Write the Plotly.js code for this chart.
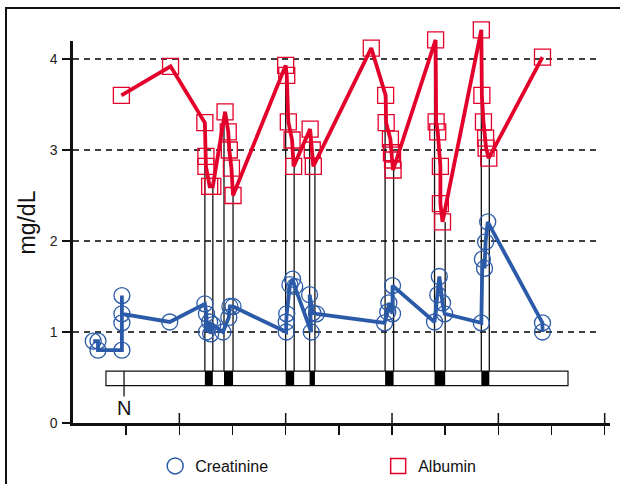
<!DOCTYPE html>
<html>
<head>
<meta charset="utf-8">
<script src="https://cdn.plot.ly/plotly-3.0.1.min.js"></script>
<style>
html,body{margin:0;padding:0;background:#fff;overflow:hidden}
#wrap{position:relative;width:620px;height:484px;overflow:hidden}
#frame{position:absolute;left:5px;top:7px;width:800px;height:700px;border-left:2.6px solid #111;border-top:2.6px solid #111;pointer-events:none}
#axtop{position:absolute;left:68px;top:16px;width:10px;height:25px;background:#fff;pointer-events:none}
</style>
</head>
<body>
<div id="wrap">
<div id="chart" style="width:620px;height:484px"></div>
<div id="axtop"></div>
<div id="frame"></div>
</div>
<script>
// Creatinine (mg/dL), in drawing order
const creatX = [0.38,0.47,0.47,0.92,0.92,0.92,0.92,1.82,
  2.48,2.51,2.51,2.57,2.59,2.63,2.82,2.93,2.95,3.01,
  4.01,4.01,4.02,4.08,4.13,4.17,4.48,4.45,4.51,4.58,
  5.86,5.92,5.94,6.01,6.01,
  6.80,6.86,6.89,6.95,6.99,
  7.68,7.70,7.74,7.76,7.80,8.83,8.83];
const creatY = [0.90,0.90,0.80,0.80,1.10,1.40,1.20,1.11,
  1.31,1.20,1.00,1.11,0.98,1.08,1.00,1.16,1.28,1.28,
  1.00,1.11,1.20,1.52,1.58,1.50,1.00,1.41,1.21,1.20,
  1.10,1.22,1.32,1.20,1.51,
  1.11,1.41,1.61,1.32,1.20,
  1.10,1.80,1.70,1.99,2.21,1.10,1.00];

// Albumin (mg/dL), in drawing order
const albX = [0.91,1.835,
  2.48,2.50,2.50,2.57,2.63,
  2.86,2.92,2.94,2.98,3.01,
  4.00,4.02,4.05,4.12,4.15,
  4.46,4.50,4.52,
  5.61,
  5.88,5.89,5.97,5.99,6.01,6.02,
  6.82,6.83,6.86,6.91,6.91,6.95,
  7.68,7.69,7.72,7.76,7.77,7.82,
  8.83];
const albY = [3.60,3.92,
  3.30,2.93,2.82,2.60,2.60,
  3.42,3.20,3.00,2.80,2.50,
  3.93,3.82,3.31,3.11,2.82,
  3.23,3.00,2.82,
  4.12,
  3.60,3.30,3.12,2.97,2.89,2.78,
  4.21,3.31,3.20,2.82,2.41,2.21,
  4.32,3.60,3.31,3.13,3.02,2.91,
  4.02];

// Episodes on the timeline bar
const epStart    = [2.48,2.84,4.00,4.45,5.87,6.80,7.68];
const epEnd      = [2.63,3.01,4.16,4.55,6.03,7.00,7.83];
const epStartTop = [3.30,3.42,3.93,3.23,3.60,4.21,4.32];
const epEndTop   = [2.60,2.50,2.82,2.82,2.78,2.21,2.91];

// Timeline bar
const barStart = 0.62, barEnd = 9.31, barBottom = 0.41, barTop = 0.57;
const markN = 0.96, markNBottom = 0.29, markNLabelY = 0.165;

const yTicks = [0,1,2,3,4];
const yTickLabels = ['0','1','2','3','4'];
const yMax = 4.4066;
const xTicks = [1,2,3,4,5,6,7,8,9,10];
const xMajor = [2,4,6,8,10];
const gridVals = [1,2,3,4];

const BLUE = '#2b5ba8', RED = '#e3002b';
const FONT = 'Arial, "Liberation Sans", sans-serif';

// vertical connector lines
const vx = [], vy = [];
for (let i = 0; i < epStart.length; i++) {
  vx.push(epStart[i], epStart[i], null, epEnd[i], epEnd[i], null);
  vy.push(barTop, epStartTop[i], null, barTop, epEndTop[i], null);
}

const traces = [
  {x: vx, y: vy, mode: 'lines', line: {color: '#111', width: 1.3}, showlegend: false, hoverinfo: 'skip', cliponaxis: false},
  {x: creatX, y: creatY, mode: 'lines+markers', showlegend: false, cliponaxis: false,
   line: {color: BLUE, width: 3.8},
   marker: {symbol: 'circle-open', size: 16, color: BLUE, line: {width: 1.3}}},
  {x: albX, y: albY, mode: 'lines+markers', showlegend: false, cliponaxis: false,
   line: {color: RED, width: 3.8},
   marker: {symbol: 'square-open', size: 16, color: RED, line: {width: 1.3}}},
  {x: [null], y: [null], mode: 'markers', name: 'Creatinine', cliponaxis: false,
   marker: {symbol: 'circle-open', size: 16, color: BLUE, line: {width: 1.5}}},
  {x: [null], y: [null], mode: 'markers', name: 'Albumin', cliponaxis: false,
   marker: {symbol: 'square-open', size: 15, color: RED, line: {width: 1.5}}}
];

const shapes = [];
// dashed gridlines
gridVals.forEach(v => shapes.push({type: 'line', xref: 'x', yref: 'y', x0: 0, x1: 9.84, y0: v, y1: v,
  line: {color: '#000', width: 1.4, dash: '6px,5px'}, layer: 'below'}));
// x major ticks upper part
xMajor.forEach(v => shapes.push({type: 'line', xref: 'x', yref: 'y', ysizemode: 'pixel', yanchor: 0,
  x0: v, x1: v, y0: 0, y1: 10, line: {color: '#111', width: 1.5}}));
// timeline bar
shapes.push({type: 'rect', xref: 'x', yref: 'y', x0: barStart, x1: barEnd, y0: barBottom, y1: barTop,
  line: {color: '#111', width: 1.2}, fillcolor: 'white'});
for (let i = 0; i < epStart.length; i++) {
  shapes.push({type: 'rect', xref: 'x', yref: 'y', x0: epStart[i], x1: epEnd[i], y0: barBottom, y1: barTop,
    line: {width: 0}, fillcolor: '#000'});
}
// N marker line
shapes.push({type: 'line', xref: 'x', yref: 'y', x0: markN, x1: markN, y0: markNBottom, y1: barTop,
  line: {color: '#111', width: 1.3}});

const layout = {
  width: 620, height: 484,
  margin: {l: 73, r: 10, t: 22, b: 61, pad: 0, autoexpand: false},
  paper_bgcolor: 'white', plot_bgcolor: 'white',
  font: {family: FONT, color: '#111'},
  xaxis: {range: [0, 10.1], showgrid: false, zeroline: false, showline: true, linecolor: '#111', linewidth: 2.6,
    ticks: 'outside', tickvals: xTicks, ticklen: 9, tickwidth: 1.5, tickcolor: '#111', showticklabels: false},
  yaxis: {range: [0, yMax], showgrid: false, zeroline: false, showline: true, linecolor: '#111', linewidth: 2.6,
    ticks: 'outside', ticklen: 8, tickwidth: 1.4, tickcolor: '#111',
    tickvals: yTicks, ticktext: yTickLabels, ticklabelstandoff: 2,
    tickfont: {size: 14, color: '#222'},
    title: {text: 'mg/dL', font: {size: 23, color: '#111'}, standoff: 8}},
  shapes: shapes,
  annotations: [{xref: 'x', yref: 'y', x: markN, y: markNLabelY, text: 'N', showarrow: false,
    font: {size: 20, color: '#111'}}],
  showlegend: true,
  legend: {orientation: 'h', x: 0.153, y: -0.1072, xanchor: 'left', yanchor: 'middle',
    font: {size: 16, color: '#111'}, entrywidth: 178, bgcolor: 'rgba(0,0,0,0)'}
};

Plotly.newPlot('chart', traces, layout, {staticPlot: true, displayModeBar: false});
</script>
</body>
</html>
